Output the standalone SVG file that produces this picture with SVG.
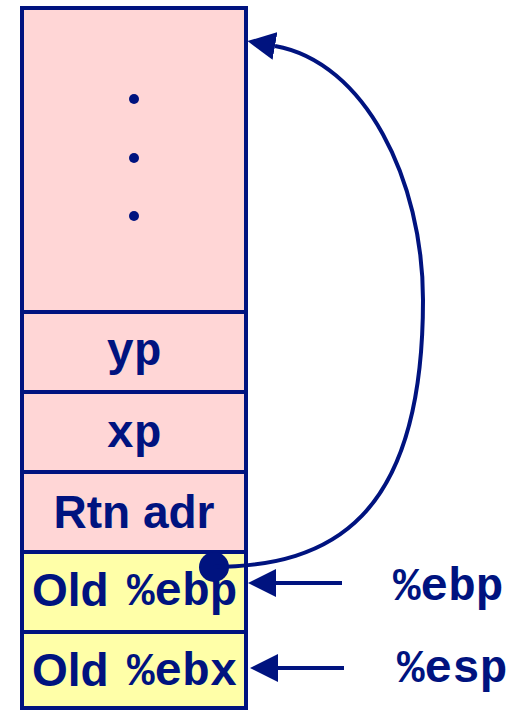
<svg xmlns="http://www.w3.org/2000/svg" width="518" height="711" viewBox="0 0 518 711">
<style>
.pink{fill:#FFD6D6;stroke:#00137F;stroke-width:4}
.yel{fill:#FFFFA8;stroke:#00137F;stroke-width:4}
.sans{font-family:"Liberation Sans",Arial,sans-serif;font-weight:bold;font-size:46px;fill:#00137F}
.mono{font-family:"Liberation Mono","Courier New",monospace;font-weight:bold;font-size:46px;fill:#00137F}
.conn{fill:none;stroke:#00137F;stroke-width:4}
.dot{fill:#00137F}
</style>
<defs>
<marker id="ah" markerUnits="userSpaceOnUse" viewBox="0 0 28 28" markerWidth="28" markerHeight="28" refX="0" refY="14" orient="auto">
<path d="M0,0 L28,14 L0,28 z" fill="#00137F"/>
</marker>
</defs>
<g id="frame-top">
<rect class="pink" x="22" y="8" width="224" height="304"/>
<circle class="dot" cx="134" cy="99" r="5"/>
<circle class="dot" cx="134" cy="158" r="5"/>
<circle class="dot" cx="134" cy="216" r="5"/>
</g>
<g id="yp">
<rect class="pink" x="22" y="312" width="224" height="80"/>
<text class="mono" x="134" y="365" text-anchor="middle">yp</text>
</g>
<g id="xp">
<rect class="pink" x="22" y="392" width="224" height="80"/>
<text class="mono" x="134" y="447" text-anchor="middle">xp</text>
</g>
<g id="rtn">
<rect class="pink" x="22" y="472" width="224" height="80"/>
<text class="sans" x="134" y="528" text-anchor="middle">Rtn adr</text>
</g>
<g id="oldebp">
<rect class="yel" x="22" y="552" width="224" height="80"/>
<text x="32" y="606"><tspan class="sans">Old</tspan><tspan class="mono" x="127" y="605">%ebp</tspan></text>
</g>
<g id="oldebx">
<rect class="yel" x="22" y="632" width="224" height="76"/>
<text x="32" y="686"><tspan class="sans">Old</tspan><tspan class="mono" x="127" y="685">%ebx</tspan></text>
</g>
<g id="connectors">
<circle class="dot" cx="214" cy="567" r="15"/>
<path class="conn" d="M214,567 C330,566 423,520 423,300 C423,180 365,62 275,46" marker-end="url(#ah)"/>
<path class="conn" d="M342,583 L276,583" marker-end="url(#ah)"/>
<path class="conn" d="M344,668 L278,668" marker-end="url(#ah)"/>
</g>
<g id="labels">
<text class="mono" x="393" y="600">%ebp</text>
<text class="mono" x="397" y="682">%esp</text>
</g>
</svg>
